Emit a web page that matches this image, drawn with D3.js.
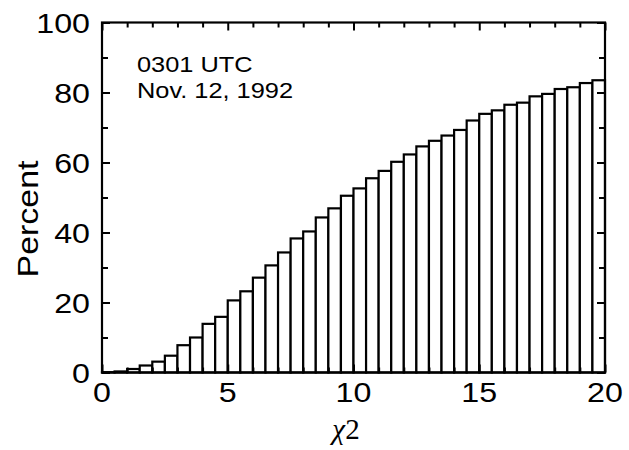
<!DOCTYPE html>
<html>
<head>
<meta charset="utf-8">
<script src="https://cdn.jsdelivr.net/npm/d3@7/dist/d3.min.js"></script>
<style>
  html, body { margin: 0; padding: 0; background: #fff; }
  svg { display: block; }
  text { fill: #000; }
</style>
</head>
<body>
<svg id="chart" width="629" height="450"></svg>
<script>
// Cumulative percentage per chi-square bin (bin width 0.5, from 0 to 20)
const binStarts = d3.range(0, 20, 0.5);
const percent = [
  0.1, 0.3, 1.0, 2.0, 3.1, 4.8, 7.8, 10.0, 13.9, 15.9,
  20.6, 23.2, 27.1, 30.6, 34.3, 38.3, 40.3, 44.3, 46.9, 50.5,
  52.6, 55.5, 57.6, 60.2, 62.3, 64.6, 66.2, 67.7, 69.3, 72.0,
  73.9, 74.9, 76.5, 77.1, 78.9, 79.6, 81.0, 81.5, 82.7, 83.5
];
const binWidth = 0.5;
const xTickLabels = [0, 5, 10, 15, 20];
const yTickLabels = [0, 20, 40, 60, 80, 100];
const annotation = ["0301 UTC", "Nov. 12, 1992"];

const svg = d3.select("#chart");
const plotLeft = 102, plotRight = 605, plotTop = 22.5, plotBottom = 372.5;
const x = d3.scaleLinear().domain([0, 20]).range([plotLeft, plotRight]);
const y = d3.scaleLinear().domain([0, 100]).range([plotBottom, plotTop]);
const sans = "'Liberation Sans', Arial, Helvetica, sans-serif";
const stretch = 1.15;

// bars
svg.append("g").selectAll("rect")
  .data(binStarts.map((s, i) => ({ s, v: percent[i] })))
  .join("rect")
  .attr("x", d => x(d.s))
  .attr("width", d => x(d.s + binWidth) - x(d.s))
  .attr("y", d => y(d.v))
  .attr("height", d => y(0) - y(d.v))
  .attr("fill", "#fff")
  .attr("stroke", "#000")
  .attr("stroke-width", 2.2);

// inward ticks on all four sides
function styleAxis(g) {
  g.select(".domain").remove();
  g.selectAll(".tick text").remove();
  g.selectAll(".tick line").attr("stroke", "#000").attr("stroke-width", 2);
}
const xTicks = d3.range(0, 21, 1);
const xLen = d => (d % 5 === 0 ? 8 : 5);
svg.append("g").attr("transform", `translate(0,${plotBottom})`)
  .call(d3.axisTop(x).tickValues(xTicks).tickFormat(""))
  .call(styleAxis)
  .selectAll(".tick line").attr("y2", d => -xLen(d));
svg.append("g").attr("transform", `translate(0,${plotTop})`)
  .call(d3.axisBottom(x).tickValues(xTicks).tickFormat(""))
  .call(styleAxis)
  .selectAll(".tick line").attr("y2", d => xLen(d));
const yTicks = d3.range(0, 101, 10);
const yLen = d => (d % 20 === 0 ? 8 : 6);
svg.append("g").attr("transform", `translate(${plotLeft},0)`)
  .call(d3.axisRight(y).tickValues(yTicks).tickFormat(""))
  .call(styleAxis)
  .selectAll(".tick line").attr("x2", d => yLen(d));
svg.append("g").attr("transform", `translate(${plotRight},0)`)
  .call(d3.axisLeft(y).tickValues(yTicks).tickFormat(""))
  .call(styleAxis)
  .selectAll(".tick line").attr("x2", d => -yLen(d));

// frame
svg.append("rect")
  .attr("x", plotLeft).attr("y", plotTop)
  .attr("width", plotRight - plotLeft).attr("height", plotBottom - plotTop)
  .attr("fill", "none").attr("stroke", "#000").attr("stroke-width", 2.2);

// tick labels
svg.append("g").selectAll("text")
  .data(xTickLabels)
  .join("text")
  .attr("transform", d => `translate(${x(d)},402) scale(${stretch},1)`)
  .attr("text-anchor", "middle")
  .attr("font-family", sans).attr("font-size", 28)
  .text(d => d);
svg.append("g").selectAll("text")
  .data(yTickLabels)
  .join("text")
  .attr("transform", d => `translate(90,${y(d) + 10}) scale(${stretch},1)`)
  .attr("text-anchor", "end")
  .attr("font-family", sans).attr("font-size", 28)
  .text(d => d);

// axis titles
svg.append("text")
  .attr("transform", `translate(38,219) rotate(-90) scale(1.17,1)`)
  .attr("text-anchor", "middle")
  .attr("font-family", sans).attr("font-size", 29)
  .text("Percent");
const xt = svg.append("text")
  .attr("x", 346).attr("y", 439)
  .attr("text-anchor", "middle")
  .attr("font-family", "'Liberation Serif', 'Times New Roman', serif")
  .attr("font-size", 29);
xt.append("tspan").attr("font-style", "italic").text("χ");
xt.append("tspan").text("2");

// annotation
svg.append("g").selectAll("text")
  .data(annotation)
  .join("text")
  .attr("transform", (d, i) => `translate(137,${72 + i * 26}) scale(1.18,1)`)
  .attr("font-family", sans).attr("font-size", 21.5)
  .text(d => d);
</script>
</body>
</html>
